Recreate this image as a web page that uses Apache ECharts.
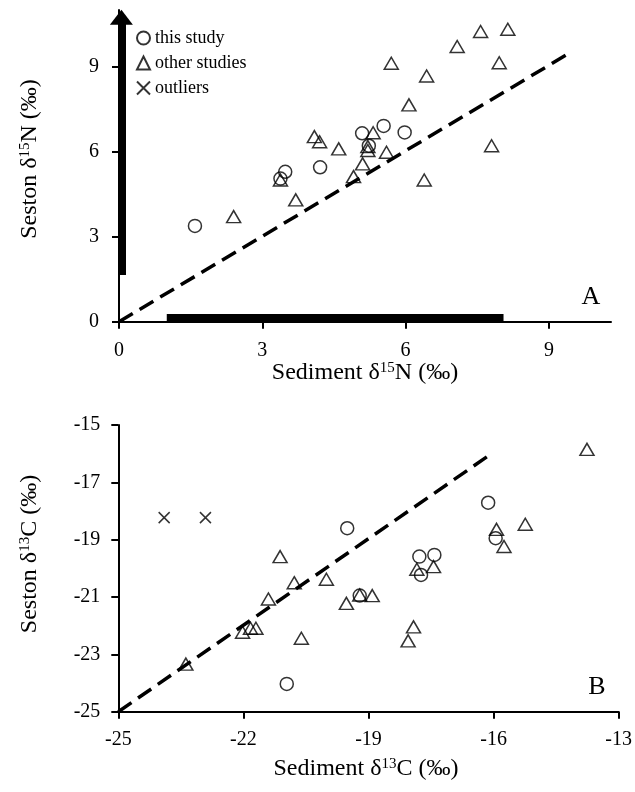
<!DOCTYPE html>
<html>
<head>
<meta charset="utf-8">
<script src="https://cdn.jsdelivr.net/npm/echarts@6/dist/echarts.min.js"></script>
<style>
  html, body { margin: 0; padding: 0; background: #fff; }
  #main { width: 635px; height: 792px; }
</style>
</head>
<body>
<div id="main"></div>
<script>
// ---- panel A: nitrogen ----
var thisStudyN = [[1.59, 3.38], [3.38, 5.05], [3.48, 5.29], [4.21, 5.45], [5.09, 6.65], [5.54, 6.91], [5.23, 6.21], [5.98, 6.68]];
var otherStudiesN = [[7.57, 10.24], [8.14, 10.32], [7.08, 9.71], [5.70, 9.12], [7.96, 9.14], [6.44, 8.67], [6.07, 7.65],
  [4.09, 6.53], [4.20, 6.35], [4.60, 6.10], [5.32, 6.67], [5.21, 6.18], [5.21, 6.04], [5.60, 5.98], [5.10, 5.57],
  [4.91, 5.12], [7.80, 6.21], [6.39, 5.00], [2.40, 3.71], [3.70, 4.30], [3.38, 5.00]];
var lineN = [[0, 0], [9.35, 9.4]];
var sedimentRangeN = [1.0, 8.05];   // thick bar on x axis
var sestonRangeN = [1.65, 10.74];   // thick arrow on y axis
var ticksN = [0, 3, 6, 9];

// ---- panel B: carbon ----
var thisStudyC = [[-19.51, -18.6], [-19.21, -20.95], [-16.13, -17.71], [-15.95, -18.95], [-17.78, -19.59],
  [-17.42, -19.53], [-17.74, -20.23], [-20.96, -24.03]];
var otherStudiesC = [[-13.76, -15.85], [-15.24, -18.46], [-15.93, -18.64], [-15.75, -19.24], [-17.84, -20.03],
  [-17.44, -19.94], [-19.21, -20.93], [-18.91, -20.95], [-19.53, -21.22], [-21.12, -19.59], [-20.78, -20.5],
  [-20.01, -20.38], [-21.4, -21.07], [-22.02, -22.23], [-21.83, -22.09], [-21.7, -22.09], [-20.61, -22.44],
  [-23.38, -23.34], [-17.92, -22.04], [-18.05, -22.53]];
var outliersC = [[-23.9, -18.23], [-22.91, -18.23]];
var lineC = [[-25, -25], [-16.05, -16.0]];
var xTicksC = [-25, -22, -19, -16, -13];
var yTicksC = [-25, -23, -21, -19, -17, -15];

var serif = '"Liberation Serif", "Times New Roman", serif';
var hollow = { color: 'rgba(0,0,0,0)', borderColor: '#000', borderWidth: 1.5 };
var crossPath = 'path://M0,0L10,10M0,10L10,0';

function axisBase(extra) {
  var a = {
    type: 'value',
    splitLine: { show: false },
    axisLine: { show: true, onZero: false, lineStyle: { color: '#000', width: 2 } },
    axisTick: { show: true, inside: false, length: 7, lineStyle: { color: '#000', width: 2 } },
    axisLabel: { color: '#000', fontFamily: serif, fontSize: 20 }
  };
  for (var k in extra) {
    if (typeof extra[k] === 'object' && a[k] && !Array.isArray(extra[k])) {
      for (var j in extra[k]) a[k][j] = extra[k][j];
    } else a[k] = extra[k];
  }
  return a;
}

var myChart = echarts.init(document.getElementById('main'));
var option = {
  animation: false,
  backgroundColor: '#fff',
  legend: {
    data: ['this study', 'other studies', 'outliers'],
    orient: 'vertical',
    left: 131,
    top: 24,
    itemWidth: 13,
    itemHeight: 13,
    itemGap: 7,
    textStyle: { fontFamily: serif, fontSize: 18, color: '#000' }
  },
  grid: [
    { left: 119, top: 10, width: 492, height: 311.7 },
    { left: 118.3, top: 425, width: 502.8, height: 286.7 }
  ],
  xAxis: [
    axisBase({ gridIndex: 0, min: 0, max: 10.3,
      axisTick: { customValues: ticksN },
      axisLabel: { customValues: ticksN, margin: 19 } }),
    axisBase({ gridIndex: 1, min: -25, max: -13, interval: 3,
      axisTick: { customValues: xTicksC },
      axisLabel: { customValues: xTicksC, margin: 18 } })
  ],
  yAxis: [
    axisBase({ gridIndex: 0, min: 0, max: 11,
      axisTick: { customValues: ticksN },
      axisLabel: { customValues: ticksN, margin: 20 } }),
    axisBase({ gridIndex: 1, min: -25, max: -15, interval: 2,
      axisTick: { customValues: yTicksC },
      axisLabel: { customValues: yTicksC, margin: 18 } })
  ],
  graphic: [
    { type: 'text', x: 365, y: 373, style: { text: 'Sediment δ{sup|15}N (‰)', font: '24px ' + serif, fill: '#000',
      align: 'center', verticalAlign: 'middle', rich: { sup: { fontSize: 15, verticalAlign: 'top', fontFamily: serif } } } },
    { type: 'text', x: 366, y: 769, style: { text: 'Sediment δ{sup|13}C (‰)', font: '24px ' + serif, fill: '#000',
      align: 'center', verticalAlign: 'middle', rich: { sup: { fontSize: 15, verticalAlign: 'top', fontFamily: serif } } } },
    { type: 'text', x: 30, y: 159, rotation: Math.PI / 2, style: { text: 'Seston δ{sup|15}N (‰)', font: '24px ' + serif, fill: '#000',
      align: 'center', verticalAlign: 'middle', rich: { sup: { fontSize: 15, verticalAlign: 'top', fontFamily: serif } } } },
    { type: 'text', x: 30, y: 554, rotation: Math.PI / 2, style: { text: 'Seston δ{sup|13}C (‰)', font: '24px ' + serif, fill: '#000',
      align: 'center', verticalAlign: 'middle', rich: { sup: { fontSize: 15, verticalAlign: 'top', fontFamily: serif } } } },
    { type: 'text', x: 591, y: 297, style: { text: 'A', font: '26px ' + serif, fill: '#000', align: 'center', verticalAlign: 'middle' } },
    { type: 'text', x: 597, y: 687, style: { text: 'B', font: '26px ' + serif, fill: '#000', align: 'center', verticalAlign: 'middle' } }
  ],
  series: [
    {
      name: 'range', type: 'line', xAxisIndex: 0, yAxisIndex: 0, data: [], silent: true,
      markLine: {
        silent: true, animation: false, label: { show: false },
        data: [
          [{ coord: [0.05, sestonRangeN[0]], symbol: 'none' },
           { coord: [0.05, sestonRangeN[1]], symbol: 'triangle', symbolSize: [23, 15] }],
          [{ coord: [sedimentRangeN[0], 0.15], symbol: 'none' },
           { coord: [sedimentRangeN[1], 0.15], symbol: 'none' }]
        ],
        lineStyle: { color: '#000', width: 8, type: 'solid' },
        itemStyle: { color: '#000' }
      }
    },
    { name: 'fit N', type: 'line', xAxisIndex: 0, yAxisIndex: 0, data: lineN, showSymbol: false, symbol: 'none',
      lineStyle: { color: '#000', width: 3.5, type: [16, 8] }, silent: true },
    { name: 'this study', type: 'scatter', xAxisIndex: 0, yAxisIndex: 0, data: thisStudyN,
      symbol: 'circle', symbolSize: 13, itemStyle: hollow },
    { name: 'other studies', type: 'scatter', xAxisIndex: 0, yAxisIndex: 0, data: otherStudiesN,
      symbol: 'triangle', symbolSize: [14, 12], itemStyle: hollow },

    { name: 'fit C', type: 'line', xAxisIndex: 1, yAxisIndex: 1, data: lineC, showSymbol: false, symbol: 'none',
      lineStyle: { color: '#000', width: 3.5, type: [16, 8] }, silent: true },
    { name: 'this study', type: 'scatter', xAxisIndex: 1, yAxisIndex: 1, data: thisStudyC,
      symbol: 'circle', symbolSize: 13, itemStyle: hollow },
    { name: 'other studies', type: 'scatter', xAxisIndex: 1, yAxisIndex: 1, data: otherStudiesC,
      symbol: 'triangle', symbolSize: [14, 12], itemStyle: hollow },
    { name: 'outliers', type: 'scatter', xAxisIndex: 1, yAxisIndex: 1, data: outliersC,
      symbol: crossPath, symbolSize: 11, itemStyle: hollow }
  ]
};
myChart.setOption(option);
</script>
</body>
</html>
